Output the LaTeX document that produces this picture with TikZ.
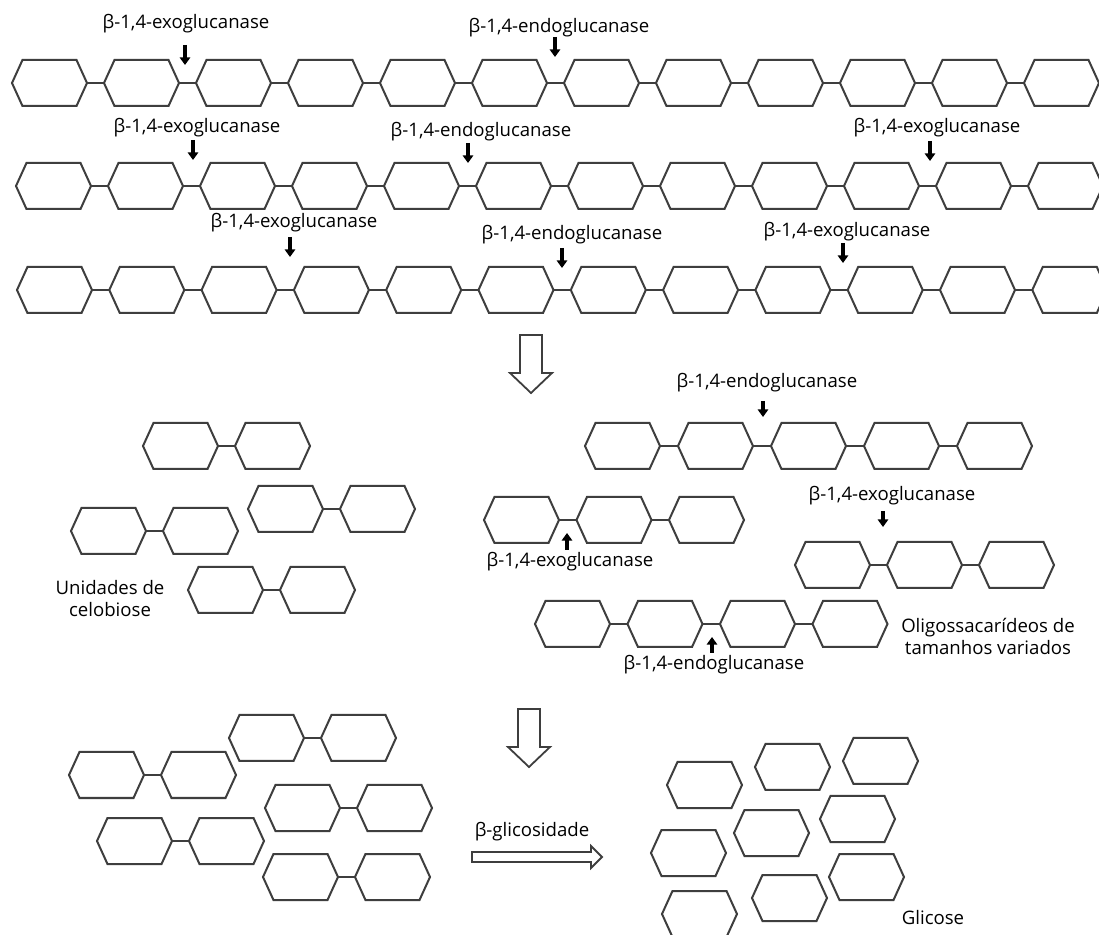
\documentclass[tikz,border=0pt]{standalone}
\usepackage{fontspec}
\setmainfont{Open Sans}
\usepackage{tikz}
\usetikzlibrary{arrows.meta, positioning, shapes.symbols}
\definecolor{hexgray}{RGB}{62,62,62}

\begin{document}
\begin{tikzpicture}[
    x=0.5pt, y=-0.5pt,
    hexa/.style={signal, signal to=east and west, signal pointer angle=131,
        draw=hexgray, line width=1pt, minimum width=37.5pt, minimum height=23pt,
        inner sep=0pt, outer sep=0pt},
    link/.style={draw=hexgray, line width=1pt},
    cut/.style={-{Triangle[width=5.2pt, length=3.8pt]}, line width=1.8pt},
    enzyme/.style={font=\fontsize{9.3}{11}\selectfont, inner sep=0pt},
    note/.style={enzyme, align=center},
    bigarrow/.style={draw=hexgray, line width=0.9pt, fill=white, line join=miter}
]

    % Fundo e margens
    \fill[white] (0,0) rectangle (1099,935);
    \useasboundingbox (0,0) rectangle (1099,935);

    % Cadeias de glicose (nome/unidades/x do centro/y/passo)
    \foreach \ch/\n/\x/\y/\p in {
        r1/12/49.5/83/92, r2/12/53.5/186/92, r3/12/54.5/290/92.3,
        md/5/622.5/446/93, me/3/521.5/520/92.5, mf/3/832.5/565/92, mg/4/572.5/624/92.5,
        ca/2/180.5/446/92, cb/2/285.5/509/92, cc/2/108.5/531/92, cd/2/225.5/590/92,
        ch/2/106.5/775/92, ci/2/266.5/738/92, cj/2/134.5/841/92,
        ck/2/302.5/808/92, cl/2/300.5/877/92} {
        \foreach \i in {1,...,\n}
            \node[hexa] (\ch-\i) at ({\x+\p*(\i-1)},\y) {};
        \foreach \j [evaluate=\j as \i using int(\j-1)] in {2,...,\n}
            \draw[link] (\ch-\i) -- (\ch-\j);
    }

    % Glicose livre
    \foreach \x/\y [count=\k] in {704.5/785, 792.5/767, 880.5/761, 857.5/819,
        771.5/833, 688.5/853, 866.5/877, 789.5/898, 699.5/914}
        \node[hexa] (glc\k) at (\x,\y) {};

    % Pontos de corte na fibra de celulose
    \node[enzyme] (ex1) at (186,24) {β-1,4-exoglucanase};
    \node[enzyme] (en1) at (559,28) {β-1,4-endoglucanase};
    \node[enzyme] (ex2) at (197,128) {β-1,4-exoglucanase};
    \node[enzyme] (en2) at (481,132) {β-1,4-endoglucanase};
    \node[enzyme] (ex3) at (937,128) {β-1,4-exoglucanase};
    \node[enzyme] (ex4) at (294,223) {β-1,4-exoglucanase};
    \node[enzyme] (en3) at (572,235) {β-1,4-endoglucanase};
    \node[enzyme] (ex5) at (847,232) {β-1,4-exoglucanase};

    \coordinate (ex1t) at (185,65);
    \coordinate (en1t) at (555,57);
    \coordinate (ex2t) at (193,160);
    \coordinate (en2t) at (468,163);
    \coordinate (ex3t) at (930,161);
    \coordinate (ex4t) at (290,257);
    \coordinate (en3t) at (562,268);
    \coordinate (ex5t) at (843,263);
    \foreach \t in {ex1t, en1t, ex2t, en2t, ex3t, ex4t, en3t, ex5t}
        \draw[cut] ([yshift=10pt]\t) -- (\t);

    % Primeira etapa
    \draw[bigarrow] (520,335) -- (542,335) -- (542,373) -- (552,373)
        -- (531,393) -- (510,373) -- (520,373) -- cycle;

    % Oligossacarideos
    \node[enzyme] (en4) at (767,383) {β-1,4-endoglucanase};
    \node[enzyme] (ex6) at (570,562) {β-1,4-exoglucanase};
    \node[enzyme] (ex7) at (892,496) {β-1,4-exoglucanase};
    \node[enzyme] (en5) at (714,665) {β-1,4-endoglucanase};
    \coordinate (en4t) at (763,417);
    \coordinate (ex6t) at (567,533);
    \coordinate (ex7t) at (883,527);
    \coordinate (en5t) at (712,637);
    \draw[cut] ([yshift=8pt]en4t) -- (en4t);
    \draw[cut] ([yshift=8pt]ex7t) -- (ex7t);
    \draw[cut] ([yshift=-8.5pt]ex6t) -- (ex6t);
    \draw[cut] ([yshift=-8pt]en5t) -- (en5t);

    \node[note] (celob) at (110,599) {Unidades de\\celobiose};
    \node[note] (oligo) at (988,636) {Oligossacarídeos de\\tamanhos variados};

    % Segunda etapa
    \draw[bigarrow] (518,709) -- (540,709) -- (540,747) -- (550,747)
        -- (529,767) -- (508,747) -- (518,747) -- cycle;
    \node[enzyme] (bglc) at (532,832) {β-glicosidade};
    \draw[bigarrow] (472,852) -- (591,852) -- (591,846) -- (602,857)
        -- (591,868) -- (591,862) -- (472,862) -- cycle;
    \node[enzyme] (glic) at (933,918) {Glicose};

\end{tikzpicture}
\end{document}
